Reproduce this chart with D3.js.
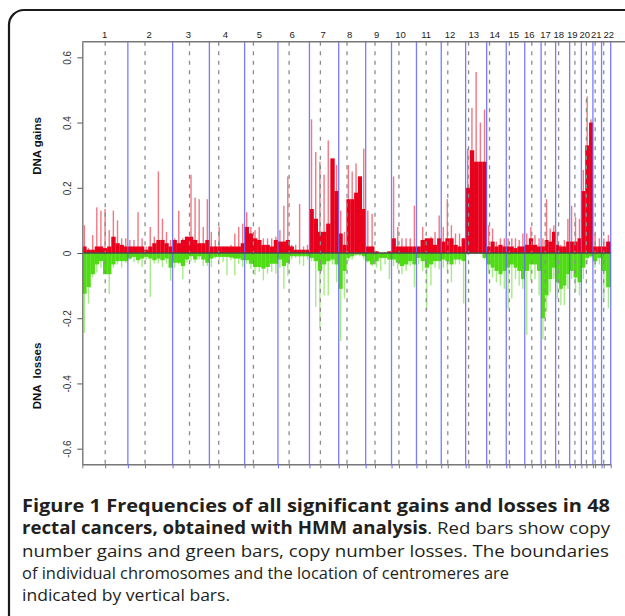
<!DOCTYPE html>
<html>
<head>
<meta charset="utf-8">
<script src="https://cdn.jsdelivr.net/npm/d3@7"></script>
<style>
  html, body { margin: 0; padding: 0; background: #fff; }
  svg { display: block; }
</style>
</head>
<body>
<svg id="fig" width="625" height="616"></svg>
<script>
'use strict'

// chromosomes, their length and centromere position (Mb)
const chromosomes = ["1","2","3","4","5","6","7","8","9","10","11","12","13","14","15","16","17","18","19","20","21","22"];
const chromLength = [247.2, 242.9, 199.5, 191.3, 180.9, 170.9, 158.8, 146.3, 140.3, 135.4, 134.5, 132.3, 114.1, 106.4, 100.3, 88.8, 78.8, 76.1, 63.8, 62.4, 46.9, 49.7];
const centromere = [124.3, 93.3, 91.7, 50.7, 47.7, 60.5, 59.4, 45.2, 50.6, 40.3, 52.9, 35.4, 16.0, 15.6, 17.0, 38.2, 22.2, 16.1, 28.5, 27.1, 12.3, 11.8];

// frequency of gains / losses along each chromosome (dense level and highest single clone)
const gainCore = [
    [0.02, 0.01, 0.01, 0.02, 0.02, 0.015, 0.02, 0.05, 0.03, 0.025, 0.02],
    [0.02, 0.02, 0.02, 0.02, 0.01, 0.02, 0.03, 0.04, 0.04, 0.03, 0.02],
    [0.04, 0.03, 0.04, 0.05, 0.05, 0.04, 0.03, 0.03, 0.04],
    [0.02, 0.02, 0.02, 0.02, 0.02, 0.02, 0.02, 0.02, 0.03],
    [0.08, 0.06, 0.045, 0.04, 0.025, 0.025, 0.02, 0.04],
    [0.035, 0.035, 0.04, 0.02, 0.01, 0.01, 0.01, 0.01],
    [0.135, 0.105, 0.065, 0.065, 0.09, 0.29, 0.19],
    [0.06, 0.025, 0.165, 0.165, 0.185, 0.235, 0.135],
    [0.02, 0.02, 0.005, 0, 0, 0.005],
    [0.045, 0.02, 0.02, 0.02, 0.02, 0.02],
    [0.02, 0.04, 0.045, 0.045, 0.025, 0.045],
    [0.035, 0.045, 0.045, 0.025, 0.02, 0.045],
    [0.2, 0.315, 0.28, 0.28, 0.28],
    [0.02, 0.035, 0.02, 0.025, 0.02],
    [0.02, 0.02, 0.015, 0.02, 0.02],
    [0.025, 0.045, 0.025, 0.02],
    [0.02, 0.04, 0.035, 0.065],
    [0.025, 0.02, 0.02, 0.035],
    [0.035, 0.035, 0.045],
    [0.19, 0.33, 0.4],
    [0.02, 0.02],
    [0.02, 0.035]
];
const gainPeak = [
    [0.085, 0.015, 0.055, 0.14, 0.13, 0.135, 0.07, 0.13, 0.10, 0.045, 0.045],
    [0.04, 0.04, 0.125, 0.045, 0.02, 0.08, 0.05, 0.25, 0.105, 0.065, 0.04],
    [0.045, 0.13, 0.045, 0.05, 0.24, 0.17, 0.165, 0.08, 0.165],
    [0.065, 0.04, 0.08, 0.02, 0.02, 0.025, 0.06, 0.08, 0.09],
    [0.125, 0.08, 0.07, 0.08, 0.045, 0.045, 0.045, 0.05],
    [0.07, 0.145, 0.235, 0.025, 0.025, 0.15, 0.02, 0.025],
    [0.41, 0.31, 0.28, 0.24, 0.345, 0.29, 0.27],
    [0.13, 0.065, 0.27, 0.25, 0.275, 0.235, 0.32],
    [0.13, 0.12, 0.005, 0, 0.003, 0.005],
    [0.235, 0.08, 0.045, 0.045, 0.045, 0.145],
    [0.02, 0.08, 0.045, 0.05, 0.065, 0.115],
    [0.08, 0.165, 0.085, 0.06, 0.06, 0.045],
    [0.32, 0.445, 0.555, 0.4, 0.44],
    [0.085, 0.075, 0.035, 0.045, 0.045],
    [0.045, 0.045, 0.045, 0.04, 0.06],
    [0.06, 0.08, 0.055, 0.045],
    [0.045, 0.165, 0.075, 0.085],
    [0.065, 0.025, 0.04, 0.105],
    [0.145, 0.11, 0.105],
    [0.255, 0.48, 0.41],
    [0.06, 0.045],
    [0.045, 0.055]
];
const lossCore = [
    [0.125, 0.105, 0.065, 0.035, 0.025, 0.065, 0.065, 0.035, 0.025, 0.025, 0.025],
    [0.017, 0.012, 0.022, 0.017, 0.012, 0.017, 0.022, 0.017, 0.022, 0.017, 0.045],
    [0.03, 0.03, 0.04, 0.02, 0.01, 0.02, 0.01, 0.02, 0.03],
    [0.017, 0.012, 0.012, 0.012, 0.012, 0.014, 0.017, 0.017, 0.022],
    [0.022, 0.033, 0.043, 0.043, 0.048, 0.043, 0.033, 0.033],
    [0.02, 0.04, 0.03, 0.01, 0.01, 0.01, 0.01, 0.01],
    [0.015, 0.025, 0.055, 0.035, 0.025, 0.02, 0.035],
    [0.11, 0.055, 0.015, 0.01, 0.005, 0.005, 0.01],
    [0.025, 0.035, 0.025, 0.015, 0.015, 0.02],
    [0.02, 0.03, 0.04, 0.035, 0.025, 0.035],
    [0.015, 0.025, 0.045, 0.035, 0.025, 0.025],
    [0.02, 0.025, 0.035, 0.02, 0.02, 0.025],
    [0.003, 0.002, 0.002, 0.002, 0.015],
    [0.035, 0.045, 0.055, 0.065, 0.055],
    [0.045, 0.035, 0.045, 0.055, 0.08],
    [0.055, 0.035, 0.035, 0.055],
    [0.2, 0.13, 0.08, 0.045],
    [0.09, 0.11, 0.1, 0.065],
    [0.055, 0.075, 0.09],
    [0.045, 0.015, 0.01],
    [0.025, 0.015],
    [0.055, 0.105]
];
const lossPeak = [
    [0.245, 0.155, 0.075, 0.06, 0.045, 0.065, 0.125, 0.045, 0.035, 0.045, 0.03],
    [0.022, 0.028, 0.032, 0.043, 0.022, 0.135, 0.032, 0.032, 0.043, 0.032, 0.085],
    [0.045, 0.035, 0.08, 0.03, 0.025, 0.03, 0.02, 0.04, 0.04],
    [0.043, 0.017, 0.022, 0.028, 0.068, 0.022, 0.068, 0.033, 0.043],
    [0.033, 0.048, 0.068, 0.058, 0.084, 0.063, 0.058, 0.063],
    [0.045, 0.11, 0.07, 0.02, 0.015, 0.035, 0.04, 0.02],
    [0.025, 0.165, 0.23, 0.13, 0.13, 0.035, 0.09],
    [0.27, 0.14, 0.025, 0.02, 0.01, 0.01, 0.02],
    [0.03, 0.04, 0.045, 0.055, 0.035, 0.08],
    [0.04, 0.05, 0.065, 0.055, 0.04, 0.105],
    [0.035, 0.055, 0.175, 0.1, 0.045, 0.05],
    [0.045, 0.055, 0.09, 0.035, 0.035, 0.155],
    [0.005, 0.003, 0.003, 0.003, 0.02],
    [0.065, 0.075, 0.09, 0.1, 0.11],
    [0.17, 0.14, 0.08, 0.1, 0.11],
    [0.25, 0.085, 0.08, 0.13],
    [0.265, 0.18, 0.12, 0.08],
    [0.14, 0.16, 0.16, 0.11],
    [0.08, 0.12, 0.13],
    [0.08, 0.035, 0.015],
    [0.045, 0.035],
    [0.14, 0.17]
];

const yTicks = [-0.6, -0.4, -0.2, 0, 0.2, 0.4, 0.6];
const yTickLabels = ["-0.6", "-0.4", "-0.2", "0", "0.2", "0.4", "0.6"];

const svg = d3.select("#fig");

// rounded frame of the figure panel
svg.append("rect")
    .attr("x", 9).attr("y", 10)
    .attr("width", 660).attr("height", 660)
    .attr("rx", 15)
    .attr("fill", "#fff")
    .attr("stroke", "#1a1a1a")
    .attr("stroke-width", 2.2);

const plotLeft = 82.3, plotRight = 610.7, plotTop = 41.7, plotBottom = 464.3;

// chromosome start positions
const offsets = [];
let acc = 0;
chromLength.forEach(l => { offsets.push(acc); acc += l; });
const genomeLength = acc;

const x = d3.scaleLinear().domain([0, genomeLength]).range([plotLeft, plotRight]);
const y = d3.scaleLinear().domain([-0.648, 0.648]).range([plotBottom, plotTop]);

// flatten bins
let bins = [];
chromosomes.forEach((c, ci) => {
    const n = gainCore[ci].length;
    const step = chromLength[ci] / n;
    for (let i = 0; i < n; i++) {
        bins.push({
            start: offsets[ci] + i * step,
            end: offsets[ci] + (i + 1) * step,
            gCore: gainCore[ci][i], gPeak: gainPeak[ci][i],
            lCore: lossCore[ci][i], lPeak: lossPeak[ci][i]
        });
    }
});

const plot = svg.append("g");

// highest clones: thin light lines
plot.selectAll(".gpeak").data(bins).enter().append("rect")
    .attr("x", d => x((d.start + d.end) / 2) - 0.7)
    .attr("width", 1.4)
    .attr("y", d => y(d.gPeak))
    .attr("height", d => y(0) - y(d.gPeak))
    .attr("fill", "#f27783");

plot.selectAll(".lpeak").data(bins).enter().append("rect")
    .attr("x", d => x((d.start + d.end) / 2) - 0.7)
    .attr("width", 1.4)
    .attr("y", y(0))
    .attr("height", d => y(-d.lPeak) - y(0))
    .attr("fill", "#a6ec86");

// dense part: solid bars
plot.selectAll(".gcore").data(bins).enter().append("rect")
    .attr("x", d => x(d.start))
    .attr("width", d => x(d.end) - x(d.start) + 0.2)
    .attr("y", d => y(d.gCore))
    .attr("height", d => y(0) - y(d.gCore))
    .attr("fill", "#e8001c");

plot.selectAll(".lcore").data(bins).enter().append("rect")
    .attr("x", d => x(d.start))
    .attr("width", d => x(d.end) - x(d.start) + 0.2)
    .attr("y", y(0))
    .attr("height", d => y(-d.lCore) - y(0))
    .attr("fill", "#4fdc14");

// centromeres (dashed) and chromosome boundaries (blue)
const centroPos = centromere.map((c, i) => offsets[i] + c);
const boundPos = offsets.slice(1).concat([genomeLength]);

svg.append("g").selectAll("line").data(centroPos).enter().append("line")
    .attr("x1", d => x(d)).attr("x2", d => x(d))
    .attr("y1", plotTop).attr("y2", plotBottom)
    .attr("stroke", "#8c8c8c")
    .attr("stroke-width", 1.3)
    .attr("stroke-dasharray", "4,5.5");

svg.append("g").selectAll("line").data(boundPos).enter().append("line")
    .attr("x1", d => x(d)).attr("x2", d => x(d))
    .attr("y1", plotTop).attr("y2", plotBottom)
    .attr("stroke", "#6464ff")
    .attr("stroke-opacity", 0.85)
    .attr("stroke-width", 1.3);

// zero line
svg.append("line")
    .attr("x1", plotLeft).attr("x2", plotRight)
    .attr("y1", y(0)).attr("y2", y(0))
    .attr("stroke", "#4a4a4a")
    .attr("stroke-width", 1.3);

// left axis
const yAxis = svg.append("g")
    .attr("transform", `translate(${plotLeft},0)`)
    .call(d3.axisLeft(y)
        .tickValues(yTicks)
        .tickFormat((d, i) => yTickLabels[i])
        .tickSize(5)
        .tickSizeOuter(0));
yAxis.select(".domain").attr("stroke", "#777").attr("stroke-width", 1.4);
yAxis.selectAll(".tick line").attr("stroke", "#555");
yAxis.selectAll(".tick text")
    .attr("transform", "rotate(-90)")
    .attr("x", 0).attr("y", -11.5).attr("dy", 0)
    .attr("text-anchor", "middle")
    .attr("fill", "#333")
    .style("font-family", "'Liberation Sans', Arial, sans-serif")
    .style("font-size", "10px");

// top line with chromosome numbers
svg.append("line")
    .attr("x1", plotLeft).attr("x2", 625)
    .attr("y1", plotTop).attr("y2", plotTop)
    .attr("stroke", "#777").attr("stroke-width", 1.4);

// labels sit a little left of the chromosome middle, the small ones spread out
const labelShift = [-1, -1.5, -3, -2, -2.5, -2, -1.5, -3, -2.5, -4, -3.2, -4, -2.8, -2.2, -2.2, -4.2, -3.3, -4.3, -3.8, -2.8, -1.5, 2.2];
const mids = chromLength.map((l, i) => offsets[i] + l / 2);
const topAxis = svg.append("g")
    .attr("transform", `translate(0,${plotTop})`)
    .call(d3.axisTop(x)
        .tickValues(mids)
        .tickFormat((d, i) => chromosomes[i])
        .tickSize(0)
        .tickPadding(3.5));
topAxis.select(".domain").remove();
topAxis.selectAll(".tick text")
    .attr("x", (d, i) => labelShift[i])
    .attr("fill", "#222")
    .style("font-family", "'Liberation Sans', Arial, sans-serif")
    .style("font-size", "9.5px");

// bottom axis, ticks at boundaries and centromeres
const bottomAxis = svg.append("g")
    .attr("transform", `translate(0,${plotBottom})`)
    .call(d3.axisBottom(x)
        .tickValues([0].concat(boundPos, centroPos))
        .tickFormat("")
        .tickSize(4)
        .tickSizeOuter(0));
bottomAxis.select(".domain").attr("stroke", "#777").attr("stroke-width", 1.4);
bottomAxis.selectAll(".tick line")
    .attr("stroke", (d, i) => (i > 0 && i <= boundPos.length) ? "#6464ff" : "#777");

// axis titles
svg.append("text")
    .attr("transform", "translate(41,146) rotate(-90)")
    .attr("text-anchor", "middle")
    .style("font-family", "'Liberation Sans', Arial, sans-serif")
    .style("font-weight", "bold")
    .style("font-size", "11.5px")
    .attr("fill", "#111")
    .text("DNA gains");

svg.append("text")
    .attr("transform", "translate(41,376) rotate(-90)")
    .attr("text-anchor", "middle")
    .style("font-family", "'Liberation Sans', Arial, sans-serif")
    .style("font-weight", "bold")
    .style("font-size", "11.5px")
    .attr("fill", "#111")
    .style("white-space", "pre")
    .text("DNA  losses");

// caption
const captionLines = [
    [["Figure 1 Frequencies of all significant gains and losses in 48", true]],
    [["rectal cancers, obtained with HMM analysis", true], [". Red bars show copy", false]],
    [["number gains and green bars, copy number losses. The boundaries", false]],
    [["of individual chromosomes and the location of centromeres are", false]],
    [["indicated by vertical bars.", false]]
];
const captionWidth = [588, 588, 587, 487, 208];

captionLines.forEach((parts, li) => {
    const t = svg.append("text")
        .attr("x", 22)
        .attr("y", 512 + li * 22.3)
        .attr("fill", "#231f20")
        .style("font-family", "'Open Sans', sans-serif")
        .style("font-size", "17px");
    t.attr("textLength", captionWidth[li]).attr("lengthAdjust", "spacingAndGlyphs");
    parts.forEach(p => {
        t.append("tspan")
            .style("font-weight", p[1] ? "bold" : "normal")
            .text(p[0]);
    });
});
</script>
</body>
</html>
